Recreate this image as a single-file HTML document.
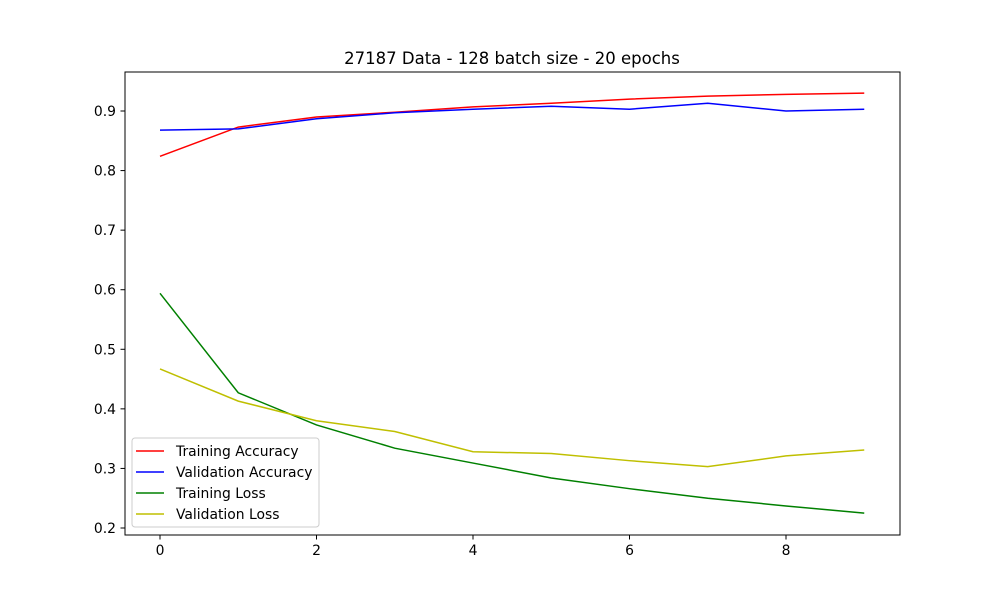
<!DOCTYPE html>
<html><head><meta charset="utf-8"><style>
body{margin:0;background:#fff;font-family:"Liberation Sans","DejaVu Sans",sans-serif}
svg text{font-family:"DejaVu Sans","Liberation Sans",sans-serif}
</style></head><body>
<svg id="c" width="1000" height="600">
<rect width="1000" height="600" fill="#fff"/>
<text x="512" y="64" text-anchor="middle" font-size="16.5">27187 Data - 128 batch size - 20 epochs</text>
<g id="g"></g>
</svg>
<script>
const epochs=[0,1,2,3,4,5,6,7,8,9];
const trainAcc=[0.824,0.873,0.890,0.898,0.907,0.913,0.920,0.925,0.928,0.930];
const valAcc=[0.868,0.870,0.887,0.897,0.903,0.908,0.903,0.913,0.900,0.903];
const trainLoss=[0.594,0.427,0.373,0.334,0.309,0.284,0.266,0.250,0.237,0.225];
const valLoss=[0.467,0.413,0.380,0.362,0.328,0.325,0.313,0.303,0.321,0.331];
const xTicks=[0,2,4,6,8];
const yTicks=[0.2,0.3,0.4,0.5,0.6,0.7,0.8,0.9];
const seriesNames=["Training Accuracy","Validation Accuracy","Training Loss","Validation Loss"];
const NS="http://www.w3.org/2000/svg";
const g=document.getElementById('g');
const X=v=>160+(v)*78.25;
const Y=v=>528-(v-0.2)*595.7;
function el(t,a){const e=document.createElementNS(NS,t);for(const k in a)e.setAttribute(k,a[k]);g.appendChild(e);return e;}
const frame=el('rect',{x:125,y:72,width:775,height:463,fill:'none',stroke:'#000','stroke-width':1});


xTicks.forEach(t=>{
 const l=el('line',{x1:X(t),x2:X(t),y1:535,y2:539.5,stroke:'#000'});
 
 
 const tx=el('text',{x:X(t),y:555,'text-anchor':'middle','font-size':13.9});tx.textContent=t;
 
 
});
yTicks.forEach(t=>{
 const l=el('line',{x1:120.5,x2:125,y1:Y(t),y2:Y(t),stroke:'#000'});
 
 
 const tx=el('text',{x:116,y:Y(t)+5,'text-anchor':'end','font-size':13.9});tx.textContent=t.toFixed(1);
 
 
});
const cols=['#ff0000','#0000ff','#008000','#bfbf00'];
[trainAcc,valAcc,trainLoss,valLoss].forEach((s,i)=>{
 const p=el('polyline',{points:s.map((v,j)=>X(epochs[j])+','+Y(v)).join(' '),fill:'none',stroke:cols[i],'stroke-width':1.5});
 
 
});
const lb=el('rect',{x:132,y:438,width:187,height:89,fill:'#fff',stroke:'#ccc',rx:3});


seriesNames.forEach((n,i)=>{
 const y=451+i*21;
 const l=el('line',{x1:136,x2:164,y1:y,y2:y,stroke:cols[i],'stroke-width':1.5});
 
 
 const t=el('text',{x:176,y:y+5,'font-size':13.9});t.textContent=n;
 
 
});
</script>
</body></html>
